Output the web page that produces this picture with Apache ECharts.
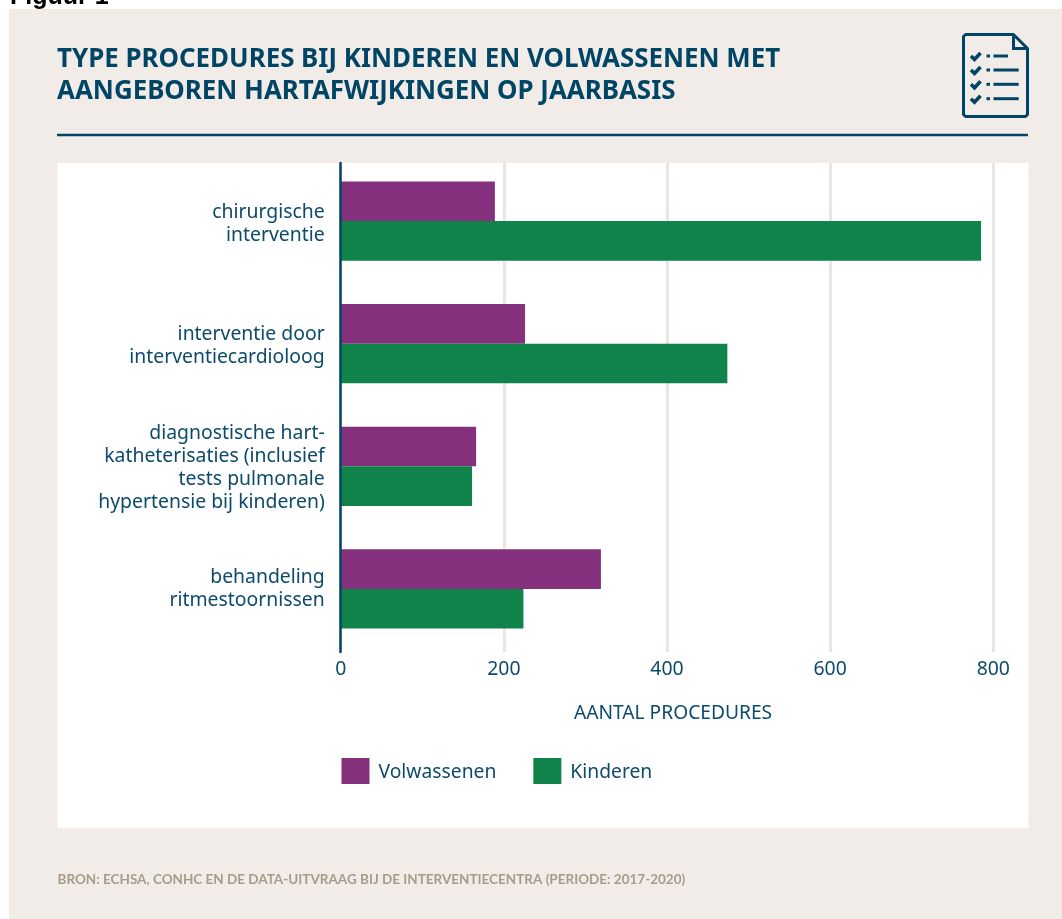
<!DOCTYPE html>
<html>
<head>
<meta charset="utf-8">
<title>Type procedures</title>
<script src="https://cdn.jsdelivr.net/npm/echarts@6/dist/echarts.min.js"></script>
<style>
  html, body { margin: 0; padding: 0; background: #fff; }
  #chart { width: 1062px; height: 919px; }
</style>
</head>
<body>
<div id="chart"></div>
<script>
const categories = [
  "chirurgische\ninterventie",
  "interventie door\ninterventiecardioloog",
  "diagnostische hart-\nkatheterisaties (inclusief\ntests pulmonale\nhypertensie bij kinderen)",
  "behandeling\nritmestoornissen",
];
const volwassenen = [189, 226, 166, 319];
const kinderen = [785, 474, 161, 224];
const xTicks = [0, 200, 400, 600, 800];

const navy = "#0d4a6b";
const dark = "#004565";
const beige = "#f1ece8";
const fontName = "Noto Sans";

const chart = echarts.init(document.getElementById("chart"), null, { renderer: "canvas" });

// checklist icon, top right
const checkRows = [56, 70, 84.3, 98.7];
const lineEnds = [1008, 1018.7, 1018.7, 1018.7];
const iconLine = { fill: "none", stroke: dark, lineWidth: 3 };
const iconParts = [];
checkRows.forEach((y, i) => {
  iconParts.push({
    type: "polyline",
    z: 3,
    shape: { points: [[971, y], [974.5, y + 3.5], [980.5, y - 3]] },
    style: { fill: "none", stroke: dark, lineWidth: 3.6 },
  });
  iconParts.push({ type: "line", z: 3, shape: { x1: 986.5, y1: y, x2: 990, y2: y }, style: iconLine });
  iconParts.push({ type: "line", z: 3, shape: { x1: 993.5, y1: y, x2: lineEnds[i], y2: y }, style: iconLine });
});

// empty first line of a category label pushes the text down by half its height
const labelGaps = ["g6", "g4", "g4", ""];
const labelText = { color: navy, fontSize: 19.4, lineHeight: 23, align: "right" };

// bars sit in grid 0, the axis line / gridlines / tick labels in grid 1 (they run a bit lower)
chart.setOption({
  animation: false,
  backgroundColor: "#fff",
  textStyle: { fontFamily: fontName },
  grid: [
    { left: 340.7, top: 159.8, width: 652.6, height: 490.4 },
    { left: 340.7, top: 163, width: 652.6, height: 489 },
  ],
  legend: {
    left: 341.5,
    top: 758,
    padding: 0,
    icon: "rect",
    itemWidth: 28,
    itemHeight: 26,
    itemGap: 37,
    data: ["Volwassenen", "Kinderen"],
    formatter: (name) => "{g4| }\n{l|" + name + "}",
    textStyle: {
      padding: [0, 0, 0, 4],
      rich: {
        l: { color: navy, fontSize: 19.3, fontFamily: fontName, lineHeight: 23 },
        g4: { fontSize: 3, lineHeight: 4 },
      },
    },
  },
  xAxis: [
    { type: "value", gridIndex: 0, min: 0, max: 800, interval: 200, show: false },
    {
      type: "value",
      gridIndex: 1,
      min: 0,
      max: 800,
      interval: 200,
      axisLine: { show: false },
      axisTick: { show: false },
      axisLabel: {
        color: navy,
        fontSize: 19.4,
        margin: 8,
        formatter: (v) => (xTicks.includes(v) ? String(v) : ""),
      },
      splitLine: { show: true, lineStyle: { color: "#ebe6e0", width: 3 } },
      name: "AANTAL PROCEDURES",
      nameLocation: "middle",
      nameGap: 52,
      nameTextStyle: { color: navy, fontSize: 19.2, padding: [0, 0, 0, 12] },
    },
  ],
  yAxis: [
    {
      type: "category",
      gridIndex: 0,
      inverse: true,
      data: categories,
      axisLine: { show: false },
      axisTick: { show: false },
      axisLabel: {
        margin: 16,
        align: "right",
        formatter: (value, index) => {
          const lines = value.split("\n").map((l) => "{l|" + l + "}");
          if (labelGaps[index]) lines.unshift("{" + labelGaps[index] + "| }");
          return lines.join("\n");
        },
        rich: {
          l: labelText,
          g6: { fontSize: 4, lineHeight: 6 },
          g4: { fontSize: 3, lineHeight: 4 },
        },
      },
    },
    {
      type: "category",
      gridIndex: 1,
      inverse: true,
      z: 5,
      data: categories,
      axisLine: { show: true, lineStyle: { color: dark, width: 2.5 } },
      axisTick: { show: false },
      axisLabel: { show: false },
    },
  ],
  series: [
    {
      name: "Volwassenen",
      type: "bar",
      xAxisIndex: 0,
      yAxisIndex: 0,
      data: volwassenen,
      barWidth: 39.6,
      barGap: 0,
      itemStyle: { color: "#84307c" },
    },
    {
      name: "Kinderen",
      type: "bar",
      xAxisIndex: 0,
      yAxisIndex: 0,
      data: kinderen,
      barWidth: 39.6,
      barGap: 0,
      itemStyle: { color: "#10834b" },
    },
  ],
  graphic: [
    { type: "rect", z: -2, shape: { x: 9, y: 9, width: 1053, height: 910 }, style: { fill: beige } },
    { type: "rect", z: -1, shape: { x: 57.5, y: 163, width: 971, height: 665.3 }, style: { fill: "#fff" } },
    {
      type: "text",
      z: 3,
      style: {
        x: 10,
        y: 10,
        text: "Figuur 1",
        fill: "#000",
        font: 'bold 25px "Liberation Sans"',
        textVerticalAlign: "bottom",
      },
    },
    {
      type: "text",
      z: 3,
      style: {
        x: 57,
        y: 60,
        text: "TYPE PROCEDURES BIJ KINDEREN EN VOLWASSENEN MET",
        fill: dark,
        font: 'bold 25.9px "Noto Sans"',
        textVerticalAlign: "middle",
      },
    },
    {
      type: "text",
      z: 3,
      style: {
        x: 57,
        y: 92,
        text: "AANGEBOREN HARTAFWIJKINGEN OP JAARBASIS",
        fill: dark,
        font: 'bold 25.9px "Noto Sans"',
        textVerticalAlign: "middle",
      },
    },
    {
      type: "rect",
      z: 3,
      shape: { x: 57, y: 133.8, width: 971, height: 2.5 },
      style: { fill: dark },
    },
    {
      type: "text",
      z: 3,
      style: {
        x: 57.5,
        y: 880,
        text: "BRON: ECHSA, CONHC EN DE DATA-UITVRAAG BIJ DE INTERVENTIECENTRA (PERIODE: 2017-2020)",
        fill: "#a89b8a",
        font: 'bold 13.5px "Lato"',
        textVerticalAlign: "middle",
      },
    },
    {
      type: "polygon",
      z: 3,
      shape: {
        points: [[965.5, 34.5], [1013.5, 34.5], [1027.5, 48.5], [1027.5, 114.5], [1025.5, 116.5], [965.5, 116.5], [963.5, 114.5], [963.5, 36.5]],
      },
      style: { fill: "none", stroke: dark, lineWidth: 3, lineJoin: "round" },
    },
    {
      type: "polyline",
      z: 3,
      shape: { points: [[1013.5, 34.5], [1013.5, 48.5], [1027.5, 48.5]] },
      style: { fill: "none", stroke: dark, lineWidth: 3 },
    },
    ...iconParts,
  ],
});
</script>
</body>
</html>
